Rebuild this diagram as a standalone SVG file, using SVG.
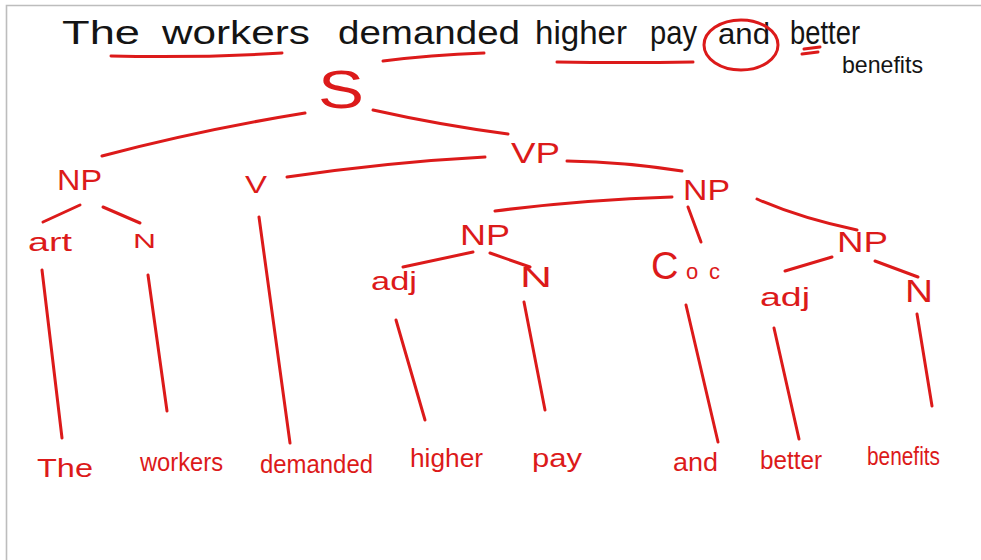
<svg xmlns="http://www.w3.org/2000/svg" width="981" height="560" viewBox="0 0 981 560">
<defs>
<style>
.frame{stroke:#bdbdbd;stroke-width:1.6;fill:none}
.title{font-family:"Liberation Sans",Arial,sans-serif;fill:#141414;font-size:34px}
.red{font-family:"Liberation Sans",Arial,sans-serif;fill:#dc1a1a}
.lbl{font-size:30px}
.sm{font-size:25px}
.leaf{font-size:25px}
.ln{stroke:#dc1a1a;stroke-width:3;stroke-linecap:round;fill:none}
</style>
</defs>
<rect x="0" y="0" width="981" height="560" fill="#ffffff"/>
<path class="frame" d="M6.5 560 V5.5 H981"/>

<g id="sentence">
<text class="title" x="62" y="44" textLength="78" lengthAdjust="spacingAndGlyphs">The</text>
<text class="title" x="162" y="44" textLength="148" lengthAdjust="spacingAndGlyphs">workers</text>
<text class="title" x="338" y="44" textLength="182" lengthAdjust="spacingAndGlyphs">demanded</text>
<text class="title" x="535" y="44" textLength="92" lengthAdjust="spacingAndGlyphs">higher</text>
<text class="title" x="650" y="44" textLength="47" lengthAdjust="spacingAndGlyphs">pay</text>
<text class="title" x="718" y="44" textLength="52" lengthAdjust="spacingAndGlyphs" style="font-size:29px">and</text>
<text class="title" x="790" y="44" textLength="70" lengthAdjust="spacingAndGlyphs">better</text>
<text class="title" x="842" y="73" textLength="81" lengthAdjust="spacingAndGlyphs" style="font-size:24px">benefits</text>
</g>

<g id="annotations">
<path class="ln" d="M111 56 Q200 58 282 53"/>
<path class="ln" d="M383 61 Q430 55 484 53"/>
<path class="ln" d="M557 62 Q625 63 693 62"/>
<ellipse class="ln" cx="741" cy="45" rx="37" ry="25"/>
<path class="ln" d="M804 49 L820 47 M802 54 L818 52"/>
</g>

<g id="connectors">
<path class="ln" d="M305 113 Q200 130 102 156"/>
<path class="ln" d="M373 110 Q440 125 508 134"/>
<path class="ln" d="M287 177 Q390 162 485 157"/>
<path class="ln" d="M567 161 Q625 162 682 171"/>
<path class="ln" d="M80 205 L43 222"/>
<path class="ln" d="M103 207 L140 223"/>
<path class="ln" d="M672 197 Q580 200 495 211"/>
<path class="ln" d="M688 207 L701 242"/>
<path class="ln" d="M757 199 Q800 218 857 230"/>
<path class="ln" d="M473 252 L403 267"/>
<path class="ln" d="M490 253 L530 267"/>
<path class="ln" d="M832 257 L785 271"/>
<path class="ln" d="M875 261 L918 277"/>
<path class="ln" d="M42 270 L62 438"/>
<path class="ln" d="M148 275 L167 411"/>
<path class="ln" d="M259 217 L290 443"/>
<path class="ln" d="M396 320 L425 420"/>
<path class="ln" d="M524 302 L545 410"/>
<path class="ln" d="M686 305 L718 442"/>
<path class="ln" d="M774 328 L799 439"/>
<path class="ln" d="M917 314 L932 406"/>
</g>

<g id="S"><text class="red" x="318" y="108" textLength="46" lengthAdjust="spacingAndGlyphs" style="font-size:54px">S</text></g>
<g id="NP-subject"><text class="red lbl" x="57" y="190" textLength="45" lengthAdjust="spacingAndGlyphs">NP</text></g>
<g id="VP"><text class="red lbl" x="511" y="163" textLength="49" lengthAdjust="spacingAndGlyphs">VP</text></g>
<g id="V"><text class="red" x="245" y="193" style="font-size:23px" textLength="22" lengthAdjust="spacingAndGlyphs">V</text></g>
<g id="NP-object"><text class="red lbl" x="683" y="200" textLength="47" lengthAdjust="spacingAndGlyphs">NP</text></g>
<g id="art"><text class="red sm" x="28" y="251" textLength="44" lengthAdjust="spacingAndGlyphs">art</text></g>
<g id="N-workers"><text class="red" x="133" y="248" style="font-size:20px" textLength="23" lengthAdjust="spacingAndGlyphs">N</text></g>
<g id="NP-higher-pay"><text class="red lbl" x="460" y="245" textLength="50" lengthAdjust="spacingAndGlyphs">NP</text></g>
<g id="Coc"><text class="red" y="279"><tspan x="651" style="font-size:38px">C</tspan><tspan x="686" style="font-size:22px">o</tspan><tspan x="709" style="font-size:22px">c</tspan></text></g>
<g id="NP-better-benefits"><text class="red lbl" x="837" y="252" textLength="51" lengthAdjust="spacingAndGlyphs">NP</text></g>
<g id="adj-higher"><text class="red sm" x="371" y="290" textLength="46" lengthAdjust="spacingAndGlyphs">adj</text></g>
<g id="N-pay"><text class="red lbl" x="520" y="287" textLength="32" lengthAdjust="spacingAndGlyphs">N</text></g>
<g id="adj-better"><text class="red sm" x="760" y="306" textLength="50" lengthAdjust="spacingAndGlyphs">adj</text></g>
<g id="N-benefits"><text class="red lbl" x="905" y="302" textLength="28" lengthAdjust="spacingAndGlyphs" style="font-size:32px">N</text></g>

<g id="leaf-the"><text class="red leaf" x="37" y="477" textLength="56" lengthAdjust="spacingAndGlyphs">The</text></g>
<g id="leaf-workers"><text class="red leaf" x="140" y="471" textLength="83" lengthAdjust="spacingAndGlyphs">workers</text></g>
<g id="leaf-demanded"><text class="red leaf" x="260" y="473" textLength="113" lengthAdjust="spacingAndGlyphs">demanded</text></g>
<g id="leaf-higher"><text class="red leaf" x="410" y="467" textLength="73" lengthAdjust="spacingAndGlyphs">higher</text></g>
<g id="leaf-pay"><text class="red leaf" x="532" y="467" textLength="50" lengthAdjust="spacingAndGlyphs">pay</text></g>
<g id="leaf-and"><text class="red leaf" x="673" y="471" textLength="45" lengthAdjust="spacingAndGlyphs">and</text></g>
<g id="leaf-better"><text class="red leaf" x="760" y="469" textLength="62" lengthAdjust="spacingAndGlyphs">better</text></g>
<g id="leaf-benefits"><text class="red leaf" x="867" y="465" textLength="73" lengthAdjust="spacingAndGlyphs">benefits</text></g>
</svg>
